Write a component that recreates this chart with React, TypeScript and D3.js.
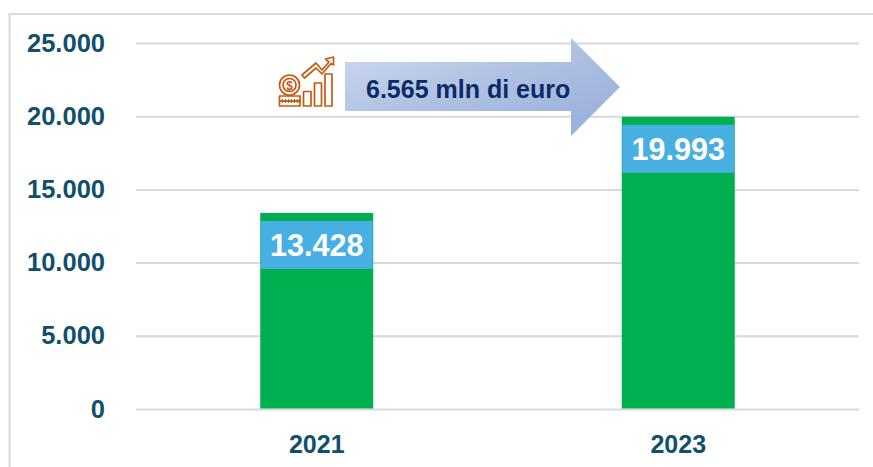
import React from "react";
import * as d3 from "d3";

const categories = ["2021", "2023"];
const values = [13428, 19993];
const valueLabels = ["13.428", "19.993"];
const yTicks = [0, 5000, 10000, 15000, 20000, 25000];
const arrowLabel = "6.565 mln di euro";

const W = 873;
const H = 467;
const x = d3.scaleBand<string>().domain(categories).range([136, 859]).paddingInner(0.6874).paddingOuter(0.3437);
const y = d3.scaleLinear().domain([0, 25000]).range([409.5, 43.5]);
const fmt = (v: number) => d3.format(",")(v).replace(/,/g, ".");
const textColor = "#124F6B";
const font = "'Liberation Sans', Arial, sans-serif";
const coinTicks = [282.5, 285.5, 288.5, 291.5, 294.5, 297.5];

export default function App() {
  return (
    <svg width={W} height={H} viewBox={`0 0 ${W} ${H}`} style={{ position: "absolute", left: 0, top: 0, background: "#fff" }}>
      <defs>
        <linearGradient id="arrowGrad" x1="0" y1="0" x2="1" y2="1">
          <stop offset="0" stopColor="#CFDBF0" />
          <stop offset="0.5" stopColor="#AEC0E2" />
          <stop offset="1" stopColor="#94ADDB" />
        </linearGradient>
      </defs>
      <path d={`M9.5 ${H} V14 H${W}`} fill="none" stroke="#D9D9D9" strokeWidth={2} />
      {yTicks.map((t) => (
        <g key={t}>
          <line x1={136} x2={859} y1={y(t)} y2={y(t)} stroke="#D9D9D9" strokeWidth={2} />
          <text x={105} y={y(t) + 8} textAnchor="end" fontFamily={font} fontWeight={700} fontSize={25.5} fill={textColor}>
            {fmt(t)}
          </text>
        </g>
      ))}
      {categories.map((c, i) => {
        const bx = x(c)!;
        const bw = x.bandwidth();
        const top = y(values[i]);
        return (
          <g key={c}>
            <rect x={bx} y={top} width={bw} height={y(0) - top - 1} fill="#00B050" />
            <rect x={bx + 0.5} y={top + 8} width={bw - 1} height={48} fill="#47AFE2" />
            <text x={bx + bw / 2} y={top + 43} textAnchor="middle" fontFamily={font} fontWeight={700} fontSize={30.6} fill="#fff">
              {valueLabels[i]}
            </text>
            <text x={bx + bw / 2} y={453} textAnchor="middle" fontFamily={font} fontWeight={700} fontSize={25} fill={textColor}>
              {c}
            </text>
          </g>
        );
      })}
      <path d="M345 62 H571 V38 L620 87 L571 136 V111 H345 Z" fill="url(#arrowGrad)" />
      <text x={366} y={98} fontFamily={font} fontWeight={700} fontSize={25} fill="#0B2A66">
        {arrowLabel}
      </text>
      <g fill="none" stroke="#C55A11" strokeWidth={1.7} strokeLinejoin="round">
        <circle cx={289.5} cy={85} r={10} />
        <circle cx={289.5} cy={85} r={6.5} />
        <rect x={279.5} y={96} width={20.5} height={5} />
        <rect x={279.5} y={101} width={20.5} height={5} />
        <rect x={303.5} y={91.5} width={7.5} height={14.5} />
        <rect x={314.5} y={83} width={7} height={23} />
        <rect x={325} y={74} width={7} height={32} />
        <path d="M302 75 L316 63 L322 70 L329 62 L325.5 59 L333.5 57 L333.5 65 L331 63.5 L322 74 L316 68 L304.5 78 Z" />
        {coinTicks.map((t) => (
          <line key={t} x1={t} x2={t} y1={99} y2={103} strokeWidth={1} />
        ))}
      </g>
      <text x={289.5} y={89.5} textAnchor="middle" fontFamily={font} fontWeight={700} fontSize={12} fill="#C55A11">
        $
      </text>
    </svg>
  );
}
